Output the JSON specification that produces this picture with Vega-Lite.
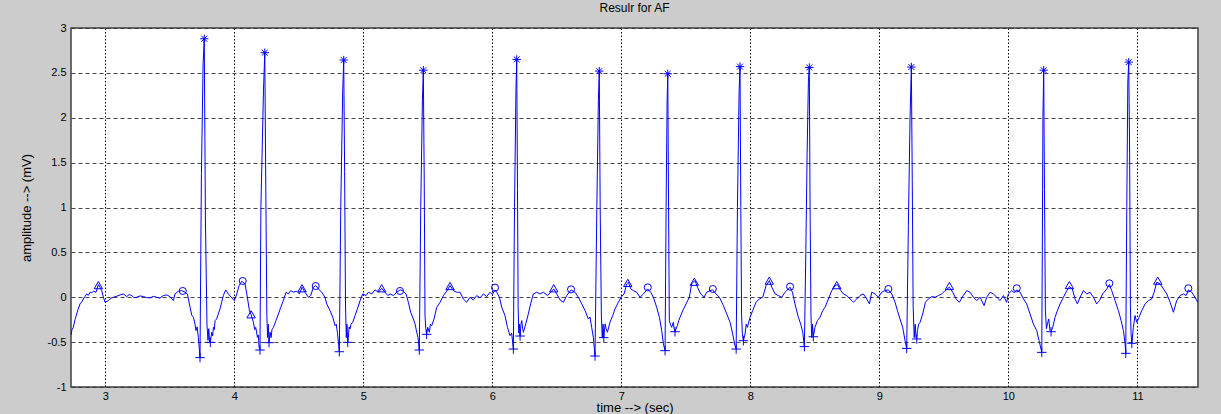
{
  "$schema": "https://vega.github.io/schema/vega-lite/v6.json",
  "autosize": {"type": "none"},
  "width": 1127,
  "height": 359,
  "padding": {"left": 71, "top": 28, "right": 23, "bottom": 27},
  "background": "#cccccc",
  "title": {"text": "Resulr for AF", "fontSize": 12, "font": "Liberation Sans", "fontWeight": "normal", "color": "#000000", "offset": 7, "anchor": "middle"},
  "config": {
    "view": {"fill": "#ffffff", "stroke": "#404040", "strokeWidth": 1.5}
  },
  "datasets": {
    "ecg": [
      {"t": 2.734, "v": -0.42}, {"t": 2.742, "v": -0.36}, {"t": 2.752, "v": -0.335}, {"t": 2.765, "v": -0.25}, {"t": 2.778, "v": -0.186}, {"t": 2.79, "v": -0.13}, {"t": 2.804, "v": -0.074}, {"t": 2.818, "v": -0.05}, {"t": 2.83, "v": -0.019}, {"t": 2.843, "v": 0.01}, {"t": 2.856, "v": 0.037}, {"t": 2.868, "v": 0.02}, {"t": 2.882, "v": 0.056}, {"t": 2.895, "v": 0.05}, {"t": 2.907, "v": 0.067}, {"t": 2.928, "v": 0.056}, {"t": 2.946, "v": 0.141}, {"t": 2.96, "v": 0.11}, {"t": 2.972, "v": 0.074}, {"t": 2.985, "v": 0.0}, {"t": 2.998, "v": -0.056}, {"t": 3.024, "v": -0.037},
      {"t": 3.045, "v": -0.01}, {"t": 3.062, "v": 0.0}, {"t": 3.09, "v": 0.012}, {"t": 3.114, "v": 0.026}, {"t": 3.14, "v": 0.037}, {"t": 3.166, "v": 0.007}, {"t": 3.185, "v": 0.03}, {"t": 3.205, "v": 0.019}, {"t": 3.222, "v": -0.005}, {"t": 3.243, "v": 0.0}, {"t": 3.27, "v": 0.015}, {"t": 3.295, "v": 0.007}, {"t": 3.32, "v": -0.004}, {"t": 3.347, "v": -0.007}, {"t": 3.372, "v": 0.01}, {"t": 3.398, "v": 0.0}, {"t": 3.422, "v": -0.01}, {"t": 3.45, "v": 0.019}, {"t": 3.476, "v": 0.026}, {"t": 3.502, "v": 0.007}, {"t": 3.528, "v": -0.037}, {"t": 3.54, "v": 0.037}, {"t": 3.566, "v": 0.067}, {"t": 3.592, "v": 0.074}, {"t": 3.618, "v": 0.056}, {"t": 3.636, "v": 0.037}, {"t": 3.657, "v": -0.112}, {"t": 3.67, "v": -0.2}, {"t": 3.683, "v": -0.223}, {"t": 3.695, "v": -0.3}, {"t": 3.703, "v": -0.372}, {"t": 3.712, "v": -0.33}, {"t": 3.721, "v": -0.446},
      {"t": 3.734, "v": -0.673}, {"t": 3.745, "v": 1.38}, {"t": 3.758, "v": 2.6}, {"t": 3.767, "v": 2.88}, {"t": 3.776, "v": 0.86}, {"t": 3.788, "v": -0.31}, {"t": 3.796, "v": -0.48}, {"t": 3.802, "v": -0.35}, {"t": 3.808, "v": -0.5}, {"t": 3.814, "v": -0.502},
      {"t": 3.825, "v": -0.39}, {"t": 3.832, "v": -0.43}, {"t": 3.838, "v": -0.335}, {"t": 3.845, "v": -0.36}, {"t": 3.851, "v": -0.26}, {"t": 3.863, "v": -0.242}, {"t": 3.876, "v": -0.186}, {"t": 3.889, "v": -0.13}, {"t": 3.902, "v": -0.056}, {"t": 3.915, "v": 0.019}, {"t": 3.933, "v": 0.082}, {"t": 3.954, "v": 0.037}, {"t": 3.98, "v": -0.007}, {"t": 4.0, "v": -0.037}, {"t": 4.019, "v": 0.037}, {"t": 4.037, "v": 0.13}, {"t": 4.057, "v": 0.178}, {"t": 4.083, "v": 0.149}, {"t": 4.101, "v": 0.0}, {"t": 4.117, "v": -0.149}, {"t": 4.13, "v": -0.193}, {"t": 4.148, "v": -0.279}, {"t": 4.158, "v": -0.36}, {"t": 4.166, "v": -0.335}, {"t": 4.179, "v": -0.446}, {"t": 4.186, "v": -0.42}, {"t": 4.192, "v": -0.558},
      {"t": 4.199, "v": -0.588}, {"t": 4.206, "v": 1.0}, {"t": 4.226, "v": 2.3}, {"t": 4.236, "v": 2.725}, {"t": 4.244, "v": 1.2}, {"t": 4.252, "v": -0.2}, {"t": 4.258, "v": -0.45}, {"t": 4.263, "v": -0.3}, {"t": 4.269, "v": -0.506},
      {"t": 4.277, "v": -0.39}, {"t": 4.285, "v": -0.45}, {"t": 4.292, "v": -0.36}, {"t": 4.303, "v": -0.335}, {"t": 4.313, "v": -0.3}, {"t": 4.323, "v": -0.26}, {"t": 4.342, "v": -0.186}, {"t": 4.36, "v": -0.112}, {"t": 4.38, "v": -0.037}, {"t": 4.401, "v": 0.056}, {"t": 4.419, "v": 0.037}, {"t": 4.437, "v": 0.074}, {"t": 4.458, "v": 0.056}, {"t": 4.484, "v": 0.067}, {"t": 4.504, "v": 0.037}, {"t": 4.525, "v": 0.112}, {"t": 4.548, "v": 0.056}, {"t": 4.574, "v": 0.0}, {"t": 4.592, "v": 0.019}, {"t": 4.613, "v": 0.112}, {"t": 4.631, "v": 0.13}, {"t": 4.652, "v": 0.093}, {"t": 4.677, "v": 0.056}, {"t": 4.703, "v": 0.0}, {"t": 4.716, "v": -0.074}, {"t": 4.742, "v": -0.149}, {"t": 4.763, "v": -0.223}, {"t": 4.781, "v": -0.316}, {"t": 4.79, "v": -0.3}, {"t": 4.799, "v": -0.39},
      {"t": 4.814, "v": -0.607}, {"t": 4.825, "v": 1.0}, {"t": 4.84, "v": 2.3}, {"t": 4.848, "v": 2.643}, {"t": 4.855, "v": 1.4}, {"t": 4.862, "v": -0.1}, {"t": 4.868, "v": -0.45}, {"t": 4.873, "v": -0.3}, {"t": 4.879, "v": -0.502},
      {"t": 4.884, "v": -0.446}, {"t": 4.89, "v": -0.33}, {"t": 4.897, "v": -0.353}, {"t": 4.905, "v": -0.3}, {"t": 4.918, "v": -0.279}, {"t": 4.936, "v": -0.204}, {"t": 4.954, "v": -0.13}, {"t": 4.975, "v": -0.037}, {"t": 4.995, "v": 0.037}, {"t": 5.021, "v": 0.019}, {"t": 5.039, "v": 0.056}, {"t": 5.065, "v": 0.037}, {"t": 5.091, "v": 0.082}, {"t": 5.117, "v": 0.056}, {"t": 5.142, "v": 0.1}, {"t": 5.168, "v": 0.056}, {"t": 5.19, "v": 0.02}, {"t": 5.207, "v": 0.037}, {"t": 5.233, "v": 0.019}, {"t": 5.259, "v": 0.056}, {"t": 5.285, "v": 0.082}, {"t": 5.305, "v": 0.074}, {"t": 5.331, "v": 0.037}, {"t": 5.349, "v": -0.056}, {"t": 5.367, "v": -0.167}, {"t": 5.388, "v": -0.242}, {"t": 5.401, "v": -0.297}, {"t": 5.414, "v": -0.39}, {"t": 5.424, "v": -0.45},
      {"t": 5.434, "v": -0.588}, {"t": 5.445, "v": 1.0}, {"t": 5.458, "v": 2.2}, {"t": 5.465, "v": 2.53}, {"t": 5.472, "v": 1.3}, {"t": 5.478, "v": -0.2}, {"t": 5.484, "v": -0.35}, {"t": 5.491, "v": -0.413},
      {"t": 5.499, "v": -0.335}, {"t": 5.512, "v": -0.39}, {"t": 5.52, "v": -0.3}, {"t": 5.53, "v": -0.316}, {"t": 5.548, "v": -0.242}, {"t": 5.569, "v": -0.112}, {"t": 5.595, "v": -0.056}, {"t": 5.621, "v": 0.019}, {"t": 5.646, "v": 0.067}, {"t": 5.672, "v": 0.13}, {"t": 5.698, "v": 0.074}, {"t": 5.724, "v": 0.056},
      {"t": 5.75, "v": 0.056}, {"t": 5.775, "v": -0.019}, {"t": 5.801, "v": -0.056}, {"t": 5.827, "v": 0.0}, {"t": 5.853, "v": -0.03}, {"t": 5.879, "v": 0.019}, {"t": 5.905, "v": -0.007}, {"t": 5.931, "v": 0.037}, {"t": 5.956, "v": 0.007}, {"t": 5.982, "v": 0.056}, {"t": 6.0, "v": 0.03}, {"t": 6.021, "v": 0.082}, {"t": 6.034, "v": 0.056}, {"t": 6.055, "v": 0.0}, {"t": 6.073, "v": -0.112}, {"t": 6.098, "v": -0.204}, {"t": 6.117, "v": -0.335}, {"t": 6.137, "v": -0.428}, {"t": 6.15, "v": -0.4},
      {"t": 6.163, "v": -0.577}, {"t": 6.172, "v": 1.0}, {"t": 6.183, "v": 2.3}, {"t": 6.189, "v": 2.65}, {"t": 6.195, "v": 1.2}, {"t": 6.2, "v": -0.1}, {"t": 6.205, "v": -0.4}, {"t": 6.21, "v": -0.3}, {"t": 6.215, "v": -0.432},
      {"t": 6.222, "v": -0.3}, {"t": 6.228, "v": -0.26}, {"t": 6.235, "v": -0.35}, {"t": 6.241, "v": -0.39}, {"t": 6.259, "v": -0.297}, {"t": 6.279, "v": -0.186}, {"t": 6.297, "v": -0.074}, {"t": 6.318, "v": 0.037}, {"t": 6.344, "v": 0.056}, {"t": 6.37, "v": 0.037}, {"t": 6.396, "v": 0.056}, {"t": 6.427, "v": 0.019}, {"t": 6.452, "v": 0.056}, {"t": 6.476, "v": 0.093}, {"t": 6.499, "v": 0.037}, {"t": 6.525, "v": -0.03}, {"t": 6.551, "v": -0.056}, {"t": 6.577, "v": 0.019}, {"t": 6.61, "v": 0.082}, {"t": 6.641, "v": 0.056}, {"t": 6.667, "v": 0.0}, {"t": 6.693, "v": -0.074}, {"t": 6.719, "v": -0.149}, {"t": 6.744, "v": -0.242}, {"t": 6.757, "v": -0.22}, {"t": 6.77, "v": -0.335}, {"t": 6.783, "v": -0.446},
      {"t": 6.796, "v": -0.655}, {"t": 6.81, "v": 1.0}, {"t": 6.822, "v": 2.2}, {"t": 6.829, "v": 2.52}, {"t": 6.836, "v": 1.0}, {"t": 6.845, "v": -0.2}, {"t": 6.852, "v": -0.45}, {"t": 6.858, "v": -0.3}, {"t": 6.864, "v": -0.45},
      {"t": 6.874, "v": -0.297}, {"t": 6.882, "v": -0.35}, {"t": 6.892, "v": -0.39}, {"t": 6.912, "v": -0.279}, {"t": 6.933, "v": -0.204}, {"t": 6.951, "v": -0.13}, {"t": 6.977, "v": -0.056}, {"t": 6.998, "v": 0.0}, {"t": 7.021, "v": 0.037}, {"t": 7.042, "v": 0.149}, {"t": 7.055, "v": 0.167}, {"t": 7.073, "v": 0.093}, {"t": 7.093, "v": 0.074}, {"t": 7.119, "v": 0.056}, {"t": 7.145, "v": 0.0}, {"t": 7.171, "v": 0.037}, {"t": 7.204, "v": 0.093}, {"t": 7.228, "v": 0.056}, {"t": 7.248, "v": 0.0}, {"t": 7.274, "v": -0.112}, {"t": 7.295, "v": -0.223}, {"t": 7.313, "v": -0.372}, {"t": 7.326, "v": -0.52},
      {"t": 7.339, "v": -0.595}, {"t": 7.347, "v": 1.0}, {"t": 7.355, "v": 2.2}, {"t": 7.36, "v": 2.49}, {"t": 7.366, "v": 1.0}, {"t": 7.372, "v": -0.26}, {"t": 7.38, "v": -0.3}, {"t": 7.39, "v": -0.335}, {"t": 7.403, "v": -0.279}, {"t": 7.409, "v": -0.35}, {"t": 7.416, "v": -0.384},
      {"t": 7.434, "v": -0.316}, {"t": 7.445, "v": -0.26}, {"t": 7.455, "v": -0.223}, {"t": 7.476, "v": -0.149}, {"t": 7.502, "v": -0.074}, {"t": 7.527, "v": 0.0}, {"t": 7.545, "v": 0.149}, {"t": 7.571, "v": 0.186}, {"t": 7.59, "v": 0.112}, {"t": 7.615, "v": 0.037}, {"t": 7.641, "v": 0.0}, {"t": 7.662, "v": 0.056}, {"t": 7.688, "v": 0.074}, {"t": 7.708, "v": 0.082}, {"t": 7.734, "v": 0.037}, {"t": 7.76, "v": 0.0}, {"t": 7.791, "v": -0.093}, {"t": 7.817, "v": -0.186}, {"t": 7.843, "v": -0.279}, {"t": 7.863, "v": -0.409}, {"t": 7.881, "v": -0.539},
      {"t": 7.89, "v": -0.577}, {"t": 7.9, "v": 1.0}, {"t": 7.913, "v": 2.3}, {"t": 7.92, "v": 2.57}, {"t": 7.926, "v": 1.0}, {"t": 7.932, "v": -0.2}, {"t": 7.938, "v": -0.4}, {"t": 7.946, "v": -0.484},
      {"t": 7.959, "v": -0.409}, {"t": 7.968, "v": -0.3}, {"t": 7.977, "v": -0.335}, {"t": 7.998, "v": -0.223}, {"t": 8.018, "v": -0.149}, {"t": 8.044, "v": -0.056}, {"t": 8.07, "v": -0.019}, {"t": 8.096, "v": 0.0}, {"t": 8.122, "v": 0.13}, {"t": 8.148, "v": 0.186}, {"t": 8.166, "v": 0.112}, {"t": 8.192, "v": 0.037}, {"t": 8.217, "v": 0.019}, {"t": 8.243, "v": 0.0}, {"t": 8.269, "v": 0.056}, {"t": 8.295, "v": 0.093}, {"t": 8.308, "v": 0.112}, {"t": 8.326, "v": 0.056}, {"t": 8.346, "v": -0.074}, {"t": 8.372, "v": -0.223}, {"t": 8.39, "v": -0.297}, {"t": 8.406, "v": -0.39},
      {"t": 8.419, "v": -0.55}, {"t": 8.43, "v": 0.5}, {"t": 8.44, "v": 1.6}, {"t": 8.45, "v": 2.4}, {"t": 8.457, "v": 2.56}, {"t": 8.463, "v": 1.0}, {"t": 8.47, "v": -0.2}, {"t": 8.476, "v": -0.45}, {"t": 8.482, "v": -0.3}, {"t": 8.488, "v": -0.44},
      {"t": 8.501, "v": -0.335}, {"t": 8.51, "v": -0.3}, {"t": 8.52, "v": -0.26}, {"t": 8.54, "v": -0.223}, {"t": 8.561, "v": -0.149}, {"t": 8.579, "v": -0.112}, {"t": 8.605, "v": -0.019}, {"t": 8.631, "v": 0.074}, {"t": 8.657, "v": 0.13}, {"t": 8.675, "v": 0.141}, {"t": 8.701, "v": 0.074}, {"t": 8.721, "v": 0.037}, {"t": 8.747, "v": 0.019}, {"t": 8.773, "v": -0.019}, {"t": 8.799, "v": -0.056}, {"t": 8.825, "v": -0.019},
      {"t": 8.85, "v": 0.019}, {"t": 8.876, "v": 0.037}, {"t": 8.902, "v": -0.019}, {"t": 8.923, "v": -0.074}, {"t": 8.941, "v": 0.056}, {"t": 8.967, "v": 0.037}, {"t": 8.993, "v": 0.0}, {"t": 9.018, "v": 0.056}, {"t": 9.044, "v": 0.074}, {"t": 9.07, "v": 0.082}, {"t": 9.096, "v": 0.037}, {"t": 9.122, "v": -0.056}, {"t": 9.14, "v": -0.149}, {"t": 9.16, "v": -0.242}, {"t": 9.181, "v": -0.335}, {"t": 9.199, "v": -0.483},
      {"t": 9.212, "v": -0.57}, {"t": 9.225, "v": 0.8}, {"t": 9.238, "v": 2.0}, {"t": 9.248, "v": 2.565}, {"t": 9.255, "v": 1.3}, {"t": 9.262, "v": -0.1}, {"t": 9.27, "v": -0.45}, {"t": 9.278, "v": -0.3}, {"t": 9.284, "v": -0.45}, {"t": 9.29, "v": -0.465},
      {"t": 9.295, "v": -0.372}, {"t": 9.305, "v": -0.3}, {"t": 9.316, "v": -0.279}, {"t": 9.336, "v": -0.186}, {"t": 9.357, "v": -0.056}, {"t": 9.38, "v": -0.019}, {"t": 9.406, "v": 0.007}, {"t": 9.432, "v": 0.0}, {"t": 9.458, "v": 0.019}, {"t": 9.484, "v": 0.037}, {"t": 9.509, "v": 0.074}, {"t": 9.543, "v": 0.112}, {"t": 9.569, "v": 0.056}, {"t": 9.595, "v": -0.019}, {"t": 9.62, "v": -0.056}, {"t": 9.651, "v": 0.019}, {"t": 9.677, "v": 0.074}, {"t": 9.703, "v": 0.056}, {"t": 9.729, "v": 0.0}, {"t": 9.755, "v": -0.037}, {"t": 9.781, "v": 0.0}, {"t": 9.812, "v": -0.093}, {"t": 9.832, "v": 0.0}, {"t": 9.858, "v": 0.056}, {"t": 9.884, "v": 0.037}, {"t": 9.91, "v": 0.0}, {"t": 9.936, "v": -0.037}, {"t": 9.962, "v": 0.019}, {"t": 9.987, "v": -0.056}, {"t": 10.0, "v": 0.037}, {"t": 10.026, "v": 0.074}, {"t": 10.045, "v": 0.05}, {"t": 10.065, "v": 0.082}, {"t": 10.091, "v": 0.056}, {"t": 10.117, "v": -0.019}, {"t": 10.142, "v": -0.074}, {"t": 10.168, "v": -0.186}, {"t": 10.194, "v": -0.297}, {"t": 10.22, "v": -0.372}, {"t": 10.238, "v": -0.483},
      {"t": 10.259, "v": -0.614}, {"t": 10.263, "v": 0.5}, {"t": 10.268, "v": 2.0}, {"t": 10.274, "v": 2.53}, {"t": 10.28, "v": 1.2}, {"t": 10.287, "v": -0.15}, {"t": 10.295, "v": -0.35}, {"t": 10.303, "v": -0.297}, {"t": 10.313, "v": -0.242}, {"t": 10.323, "v": -0.372}, {"t": 10.331, "v": -0.384},
      {"t": 10.344, "v": -0.335}, {"t": 10.362, "v": -0.223}, {"t": 10.38, "v": -0.149}, {"t": 10.401, "v": -0.074}, {"t": 10.427, "v": 0.0}, {"t": 10.453, "v": 0.074}, {"t": 10.473, "v": 0.119}, {"t": 10.496, "v": 0.093}, {"t": 10.517, "v": -0.019}, {"t": 10.535, "v": -0.074}, {"t": 10.556, "v": 0.0}, {"t": 10.582, "v": 0.074}, {"t": 10.608, "v": 0.037}, {"t": 10.633, "v": 0.056}, {"t": 10.659, "v": 0.0}, {"t": 10.685, "v": -0.074}, {"t": 10.706, "v": -0.037}, {"t": 10.731, "v": 0.037}, {"t": 10.763, "v": 0.093}, {"t": 10.783, "v": 0.141}, {"t": 10.801, "v": 0.074}, {"t": 10.827, "v": -0.037}, {"t": 10.853, "v": -0.149}, {"t": 10.874, "v": -0.26}, {"t": 10.892, "v": -0.372}, {"t": 10.905, "v": -0.52},
      {"t": 10.91, "v": -0.625}, {"t": 10.918, "v": 1.0}, {"t": 10.926, "v": 2.4}, {"t": 10.933, "v": 2.62}, {"t": 10.94, "v": 1.6}, {"t": 10.946, "v": -0.1}, {"t": 10.951, "v": -0.4}, {"t": 10.957, "v": -0.513},
      {"t": 10.969, "v": -0.335}, {"t": 10.982, "v": -0.204}, {"t": 10.995, "v": -0.279}, {"t": 11.013, "v": -0.223}, {"t": 11.034, "v": -0.149}, {"t": 11.06, "v": -0.074}, {"t": 11.086, "v": -0.037}, {"t": 11.111, "v": -0.019}, {"t": 11.13, "v": 0.056}, {"t": 11.15, "v": 0.167}, {"t": 11.176, "v": 0.149}, {"t": 11.202, "v": 0.093}, {"t": 11.228, "v": 0.037}, {"t": 11.254, "v": -0.056}, {"t": 11.279, "v": -0.167}, {"t": 11.305, "v": -0.037}, {"t": 11.331, "v": 0.019}, {"t": 11.357, "v": 0.037}, {"t": 11.378, "v": 0.019}, {"t": 11.396, "v": 0.082}, {"t": 11.422, "v": 0.056}, {"t": 11.447, "v": 0.0}, {"t": 11.468, "v": -0.056}
    ],
    "peaks": [
      {"t": 3.767, "v": 2.88}, {"t": 4.236, "v": 2.725}, {"t": 4.848, "v": 2.643}, {"t": 5.465, "v": 2.53}, {"t": 6.189, "v": 2.65}, {"t": 6.829, "v": 2.52}, {"t": 7.36, "v": 2.49}, {"t": 7.92, "v": 2.57}, {"t": 8.457, "v": 2.56}, {"t": 9.248, "v": 2.565}, {"t": 10.274, "v": 2.53}, {"t": 10.933, "v": 2.62}
    ],
    "mins": [
      {"t": 3.734, "v": -0.673}, {"t": 3.814, "v": -0.502}, {"t": 4.199, "v": -0.588}, {"t": 4.269, "v": -0.506}, {"t": 4.814, "v": -0.607}, {"t": 4.879, "v": -0.502}, {"t": 5.434, "v": -0.588}, {"t": 5.491, "v": -0.413}, {"t": 6.163, "v": -0.577}, {"t": 6.215, "v": -0.432}, {"t": 6.796, "v": -0.655}, {"t": 6.864, "v": -0.45}, {"t": 7.339, "v": -0.595}, {"t": 7.416, "v": -0.384}, {"t": 7.89, "v": -0.577}, {"t": 7.946, "v": -0.484}, {"t": 8.419, "v": -0.55}, {"t": 8.488, "v": -0.44}, {"t": 9.212, "v": -0.57}, {"t": 9.29, "v": -0.465}, {"t": 10.259, "v": -0.614}, {"t": 10.331, "v": -0.384}, {"t": 10.91, "v": -0.625}, {"t": 10.957, "v": -0.513}
    ],
    "circles": [
      {"t": 3.6, "v": 0.07}, {"t": 4.065, "v": 0.181}, {"t": 4.631, "v": 0.125}, {"t": 5.284, "v": 0.07}, {"t": 6.021, "v": 0.107}, {"t": 6.61, "v": 0.088}, {"t": 7.205, "v": 0.11}, {"t": 7.709, "v": 0.092}, {"t": 8.308, "v": 0.118}, {"t": 9.07, "v": 0.092}, {"t": 10.065, "v": 0.1}, {"t": 10.783, "v": 0.155}, {"t": 11.395, "v": 0.1}
    ],
    "tris": [
      {"t": 2.946, "v": 0.135}, {"t": 4.13, "v": -0.19}, {"t": 4.525, "v": 0.1}, {"t": 5.142, "v": 0.1}, {"t": 5.672, "v": 0.125}, {"t": 6.476, "v": 0.1}, {"t": 7.05, "v": 0.16}, {"t": 7.566, "v": 0.173}, {"t": 8.147, "v": 0.185}, {"t": 8.67, "v": 0.135}, {"t": 9.543, "v": 0.125}, {"t": 10.473, "v": 0.136}, {"t": 11.158, "v": 0.185}
    ]
  },
  "encoding": {
    "x": {
      "field": "t", "type": "quantitative",
      "scale": {"domain": [2.734, 11.47], "nice": false, "zero": false},
      "axis": {
        "title": "time --> (sec)", "values": [3, 4, 5, 6, 7, 8, 9, 10, 11],
        "labelExpr": "'' + datum.value",
        "grid": true, "gridColor": "#000000", "gridDash": [1.5, 2], "gridWidth": 1, "gridOpacity": 1,
        "domain": false, "ticks": false, "tickSize": 0,
        "labelFont": "Liberation Sans", "labelFontSize": 11, "labelColor": "#000000", "labelPadding": 12, "labelBaseline": "alphabetic",
        "titleFont": "Liberation Sans", "titleFontSize": 13, "titleFontWeight": "normal", "titleColor": "#000000",
        "titleY": 24, "titleBaseline": "alphabetic"
      }
    },
    "y": {
      "field": "v", "type": "quantitative",
      "scale": {"domain": [-1, 3], "nice": false, "zero": false},
      "axis": {
        "title": "amplitude --> (mV)", "values": [-1, -0.5, 0, 0.5, 1, 1.5, 2, 2.5, 3],
        "labelExpr": "'' + datum.value",
        "grid": true, "gridColor": "#333333", "gridDash": [4, 3], "gridWidth": 1, "gridOpacity": 0.9,
        "domain": false, "ticks": false, "tickSize": 0,
        "labelFont": "Liberation Sans", "labelFontSize": 11, "labelColor": "#000000", "labelPadding": 5,
        "titleFont": "Liberation Sans", "titleFontSize": 13, "titleFontWeight": "normal", "titleColor": "#000000",
        "titleX": -38
      }
    }
  },
  "layer": [
    {"data": {"name": "ecg"}, "mark": {"type": "line", "color": "#0000ff", "strokeWidth": 1, "clip": true}},
    {"data": {"name": "peaks"}, "mark": {"type": "point", "shape": "M-1,0L1,0M0,-1L0,1M-0.7,-0.7L0.7,0.7M-0.7,0.7L0.7,-0.7", "size": 70, "filled": false, "color": "#0000ff", "strokeWidth": 1, "opacity": 1}},
    {"data": {"name": "mins"}, "mark": {"type": "point", "shape": "M-1,0L1,0M0,-1L0,1", "size": 90, "filled": false, "color": "#0000ff", "strokeWidth": 1, "opacity": 1}},
    {"data": {"name": "circles"}, "mark": {"type": "point", "shape": "circle", "size": 50, "filled": false, "color": "#0000ff", "strokeWidth": 1, "opacity": 1}},
    {"data": {"name": "tris"}, "mark": {"type": "point", "shape": "triangle-up", "size": 70, "filled": false, "color": "#0000ff", "strokeWidth": 1, "opacity": 1}}
  ]
}
